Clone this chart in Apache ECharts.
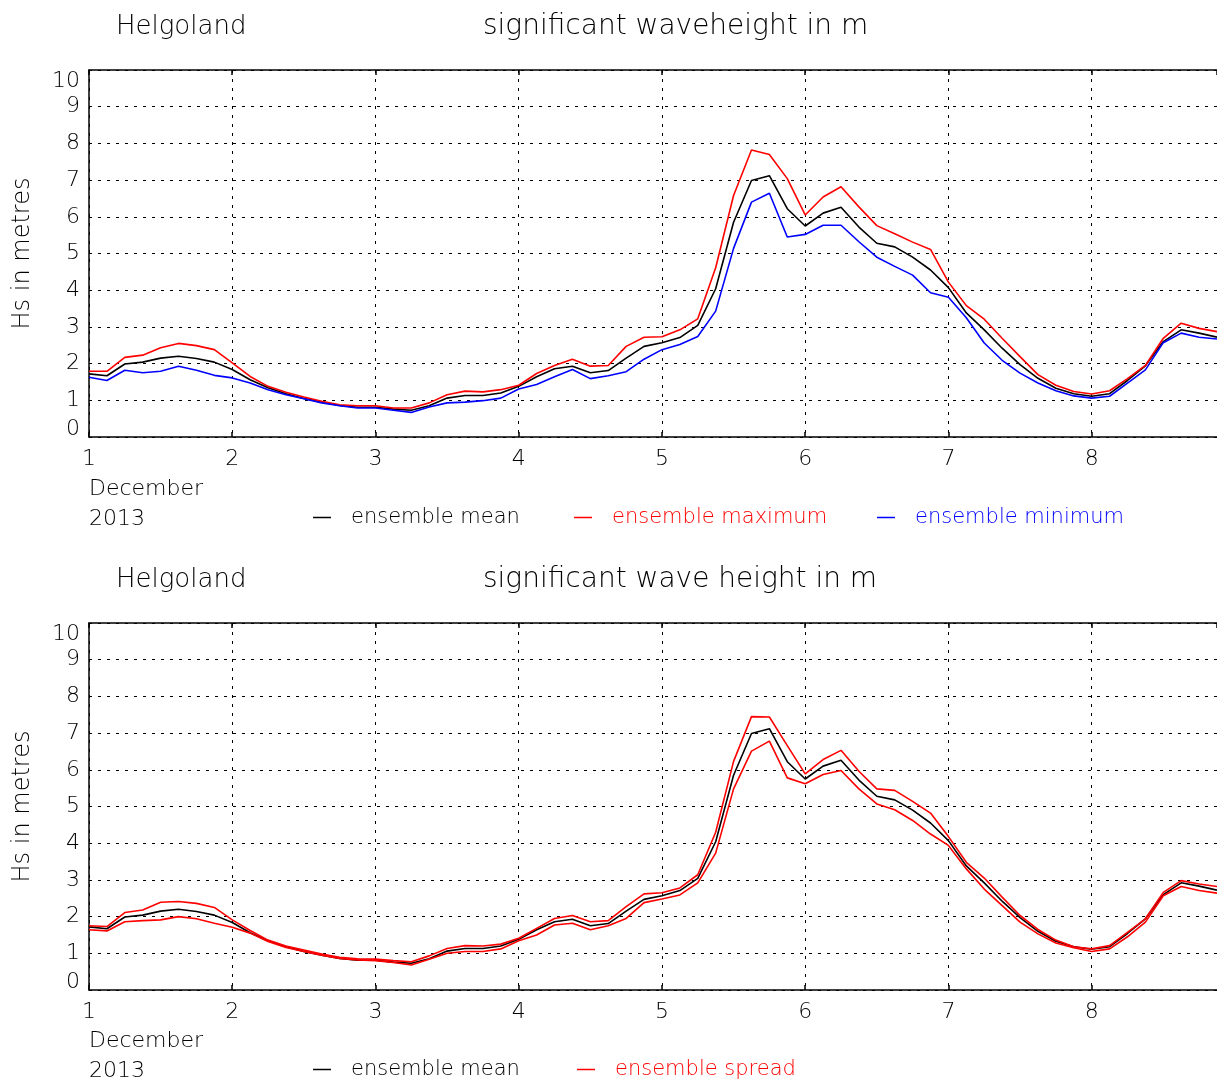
<!DOCTYPE html>
<html><head><meta charset="utf-8">
<script src="https://cdn.jsdelivr.net/npm/echarts@6/dist/echarts.min.js"></script>
<style>html,body{margin:0;padding:0;background:#fff}#c{width:1217px;height:1081px}</style>
</head><body><div id="c"></div>
<script>
// time in days of December 2013 (3-hourly)
const times = [1,1.125,1.25,1.375,1.5,1.625,1.75,1.875,
  2,2.125,2.25,2.375,2.5,2.625,2.75,2.875,
  3,3.125,3.25,3.375,3.5,3.625,3.75,3.875,
  4,4.125,4.25,4.375,4.5,4.625,4.75,4.875,
  5,5.125,5.25,5.375,5.5,5.625,5.75,5.875,
  6,6.125,6.25,6.375,6.5,6.625,6.75,6.875,
  7,7.125,7.25,7.375,7.5,7.625,7.75,7.875,
  8,8.125,8.25,8.375,8.5,8.625,8.75,8.875];
const ensembleMean = [1.72,1.67,1.99,2.04,2.15,2.20,2.14,2.04,
  1.84,1.56,1.34,1.18,1.05,0.95,0.86,0.81,
  0.81,0.76,0.73,0.85,1.06,1.13,1.13,1.20,
  1.38,1.64,1.86,1.93,1.75,1.81,2.15,2.47,
  2.57,2.71,3.04,4.04,5.85,6.99,7.12,6.22,
  5.75,6.10,6.26,5.72,5.28,5.18,4.90,4.55,
  4.07,3.38,2.92,2.42,1.97,1.60,1.33,1.18,
  1.11,1.18,1.54,1.94,2.60,2.92,2.83,2.72];
const ensembleMax = [1.79,1.79,2.17,2.23,2.43,2.55,2.49,2.38,
  2.02,1.65,1.38,1.22,1.09,0.97,0.88,0.85,
  0.85,0.79,0.79,0.93,1.15,1.25,1.23,1.29,
  1.41,1.73,1.95,2.12,1.93,1.95,2.47,2.72,
  2.73,2.92,3.22,4.61,6.58,7.82,7.70,7.04,
  6.05,6.54,6.82,6.27,5.76,5.54,5.31,5.11,
  4.22,3.58,3.21,2.69,2.19,1.70,1.41,1.24,
  1.17,1.26,1.59,1.95,2.69,3.10,2.96,2.87];
const ensembleMin = [1.63,1.54,1.82,1.75,1.79,1.93,1.82,1.68,
  1.61,1.47,1.29,1.15,1.04,0.93,0.85,0.79,
  0.79,0.73,0.67,0.82,0.93,0.95,0.99,1.06,
  1.31,1.43,1.64,1.84,1.59,1.67,1.78,2.12,
  2.38,2.52,2.74,3.43,5.14,6.40,6.64,5.45,
  5.52,5.77,5.77,5.32,4.90,4.65,4.41,3.93,
  3.81,3.25,2.56,2.09,1.74,1.47,1.26,1.12,
  1.06,1.11,1.47,1.83,2.57,2.83,2.72,2.67];
const spreadUpper = [1.75,1.73,2.11,2.18,2.39,2.41,2.36,2.25,
  1.91,1.62,1.36,1.20,1.09,0.98,0.89,0.85,
  0.84,0.80,0.77,0.93,1.13,1.21,1.20,1.25,
  1.41,1.68,1.95,2.03,1.86,1.89,2.27,2.62,
  2.65,2.78,3.14,4.30,6.23,7.45,7.44,6.66,
  5.89,6.28,6.53,5.96,5.48,5.44,5.14,4.82,
  4.18,3.48,3.05,2.53,2.03,1.65,1.36,1.18,
  1.12,1.21,1.57,1.94,2.66,2.98,2.89,2.82];
const spreadLower = [1.64,1.61,1.86,1.89,1.91,2.00,1.94,1.82,
  1.71,1.55,1.32,1.16,1.05,0.95,0.86,0.82,
  0.80,0.75,0.68,0.84,1.00,1.05,1.05,1.12,
  1.34,1.50,1.77,1.82,1.64,1.75,1.95,2.38,
  2.48,2.59,2.92,3.73,5.48,6.51,6.78,5.78,
  5.62,5.87,5.98,5.48,5.07,4.91,4.62,4.25,
  3.94,3.30,2.75,2.30,1.85,1.53,1.28,1.15,
  1.05,1.12,1.45,1.85,2.57,2.82,2.71,2.64];

const FONT = 'DejaVu Sans';
const FW = 'lighter';
const chart = echarts.init(document.getElementById('c'), null, {renderer: 'canvas'});
const pts = arr => times.map((t, i) => [t, arr[i]]);
const dotted = {color: '#000', width: 1, type: [3, 6]};

function xAxes(gi) {
  return [{
    type: 'value', gridIndex: gi, min: 1, max: 8.875, interval: 1, position: 'bottom',
    axisLine: {show: true, onZero: false, lineStyle: {color: '#000', width: 1.5}},
    axisTick: {show: true, inside: true, length: 5, lineStyle: {color: '#000', width: 1.5}},
    splitLine: {show: true, lineStyle: dotted},
    axisLabel: {show: true, color: '#000', fontSize: 22, fontFamily: FONT, fontWeight: FW, margin: 11, showMaxLabel: false}
  }, {
    type: 'value', gridIndex: gi, min: 1, max: 8.875, interval: 1, position: 'top',
    axisLine: {show: true, onZero: false, lineStyle: {color: '#000', width: 1.5}},
    axisTick: {show: true, inside: true, length: 5, lineStyle: {color: '#000', width: 1.5}},
    splitLine: {show: false}, axisLabel: {show: false}
  }];
}
function yAxis(gi) {
  return {
    type: 'value', gridIndex: gi, min: 0, max: 10, interval: 1,
    name: 'Hs in metres', nameLocation: 'middle', nameGap: 54, nameRotate: 90,
    nameTextStyle: {color: '#000', fontSize: 24, fontFamily: FONT, fontWeight: FW},
    axisLine: {show: true, onZero: false, lineStyle: {color: '#000', width: 1.5}},
    axisTick: {show: false},
    splitLine: {show: true, lineStyle: dotted},
    axisLabel: {
      color: '#000', fontSize: 22, fontFamily: FONT, fontWeight: FW, margin: 9,
      formatter: v => v === 0 ? '{lo|0}' : (v === 10 ? '{hi|10}' : String(v)),
      rich: {
        lo: {fontSize: 22, fontFamily: FONT, fontWeight: FW, color: '#000', padding: [0, 0, 16, 0]},
        hi: {fontSize: 22, fontFamily: FONT, fontWeight: FW, color: '#000', padding: [22, 0, 0, 0]}
      }
    }
  };
}
function lineSeries(name, data, color, xi, yi) {
  return {type: 'line', name, data: pts(data), xAxisIndex: xi, yAxisIndex: yi, color,
    showSymbol: false, symbol: 'none', lineStyle: {color, width: 1.6}, animation: false, z: 3};
}
function legendAt(name, color, left, top) {
  return {data: [{name, textStyle: {color}}], left, top, icon: 'rect', itemWidth: 18, itemHeight: 1.5,
    textStyle: {fontSize: 21, fontFamily: FONT, fontWeight: FW, color, padding: [0, 0, 0, 15]},
    selectedMode: false, padding: 0};
}
function txt(text, x, y, size) {
  return {type: 'text', x, y, style: {text, fill: '#000', font: `200 ${size}px "${FONT}"`, textVerticalAlign: 'middle', textAlign: 'left'}};
}

chart.setOption({
  animation: false,
  backgroundColor: '#fff',
  grid: [
    {left: 89, top: 70, width: 1128, height: 367},
    {left: 89, top: 623, width: 1128, height: 367}
  ],
  xAxis: [...xAxes(0), ...xAxes(1)],
  yAxis: [yAxis(0), yAxis(1)],
  legend: [
    legendAt('ensemble mean', '#000', 313, 507),
    legendAt('ensemble maximum', '#ff0000', 574, 507),
    legendAt('ensemble minimum', '#0000ff', 877, 507),
    legendAt('ensemble mean', '#000', 313, 1059),
    legendAt('ensemble spread', '#ff0000', 577, 1059)
  ],
  graphic: [
    txt('Helgoland', 116, 27, 26),
    txt('significant waveheight in m', 483, 27, 28),
    txt('December', 89, 489, 22),
    txt('2013', 89, 519, 22),
    txt('Helgoland', 116, 580, 26),
    txt('significant wave height in m', 483, 580, 28),
    txt('December', 89, 1041, 22),
    txt('2013', 89, 1071, 22)
  ],
  series: [
    lineSeries('ensemble mean', ensembleMean, '#000', 0, 0),
    lineSeries('ensemble maximum', ensembleMax, '#ff0000', 0, 0),
    lineSeries('ensemble minimum', ensembleMin, '#0000ff', 0, 0),
    lineSeries('ensemble mean', ensembleMean, '#000', 2, 1),
    lineSeries('ensemble spread', spreadUpper, '#ff0000', 2, 1),
    lineSeries('ensemble spread', spreadLower, '#ff0000', 2, 1)
  ]
});
</script></body></html>
